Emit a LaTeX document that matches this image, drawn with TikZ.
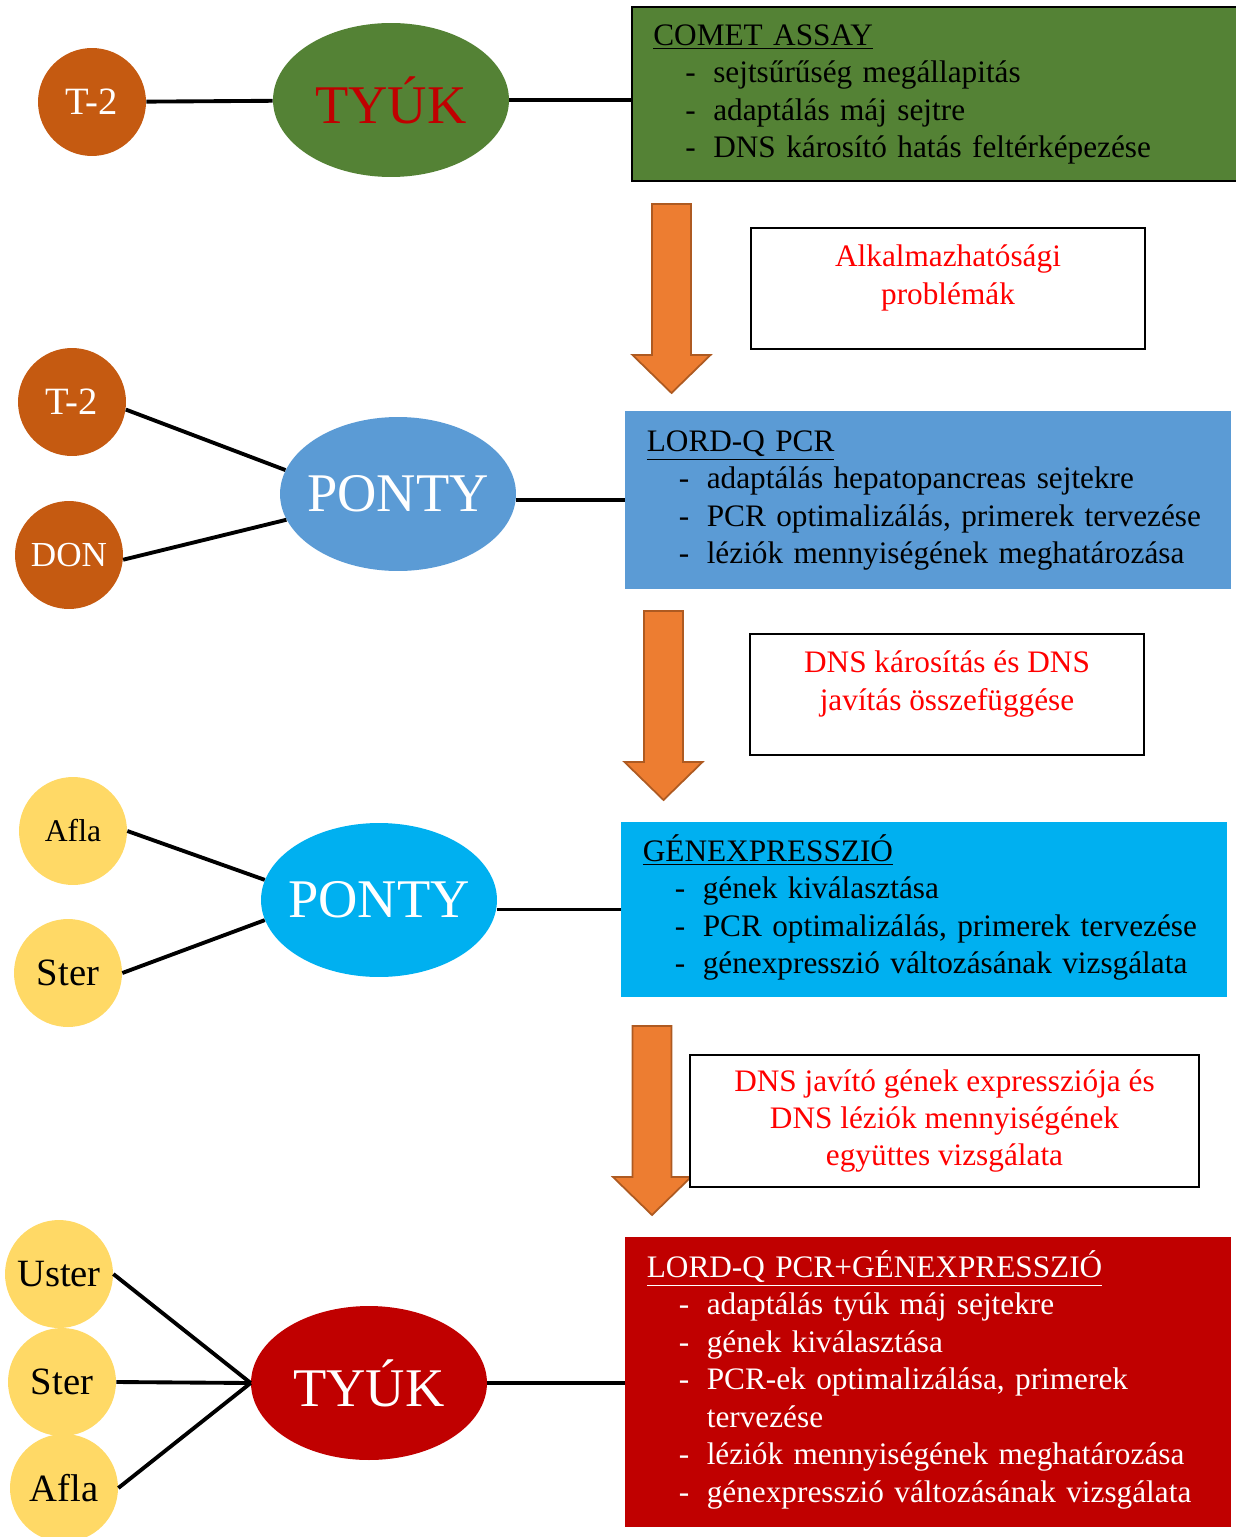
\documentclass[tikz,border=0pt]{standalone}
\usepackage{fontspec}
\setmainfont{Liberation Serif}
\usepackage{xcolor}
\usepackage{tikz}
\usetikzlibrary{positioning, shapes.geometric}

\definecolor{leaf}{HTML}{548235}
\definecolor{rust}{HTML}{C55A11}
\definecolor{steel}{HTML}{5B9BD5}
\definecolor{sky}{HTML}{00B0F0}
\definecolor{corn}{HTML}{FFD966}
\definecolor{wine}{HTML}{C00000}
\definecolor{arroworange}{HTML}{ED7D31}
\definecolor{arrowedge}{HTML}{AE5A21}
\definecolor{textred}{HTML}{FF0000}

\newcommand{\listhead}[1]{\multicolumn{2}{@{}l@{}}{\underline{#1}}}
\newenvironment{steplist}{\begin{tabular}{@{\hspace{0.64cm}}p{0.56cm}@{}l@{}}}{\end{tabular}}

\begin{document}
\begin{tikzpicture}[x=0.02cm, y=-0.02cm,
  toxin/.style={circle, minimum size=2.16cm, inner sep=0pt, font=\fontsize{22}{26}\selectfont},
  animal/.style={ellipse, minimum width=4.72cm, minimum height=3.08cm, inner xsep=-1cm, inner ysep=0pt, font=\fontsize{31}{36}\selectfont},
  listbox/.style={rectangle, align=left, text width=11.25cm, inner xsep=0.42cm, inner ysep=0pt, font=\fontsize{17.8}{21.3}\selectfont},
  note/.style={rectangle, draw=black, fill=white, line width=1.1pt, inner sep=0pt, minimum width=7.88cm, minimum height=2.42cm},
  notetext/.style={align=center, text=textred, font=\fontsize{17.8}{22}\selectfont},
  link/.style={line width=2.2pt},
  fatarrow/.style={fill=arroworange, draw=arrowedge, line width=1pt}]
\useasboundingbox (0,0) rectangle (1236,1537);

% first row: tyuk, comet assay
\node[toxin, fill=rust, text=white] (t2a) at (92,102) {T-2};
\node[animal, fill=leaf, text=wine] (tyuk1) at (391,100) {TYÚK};
\node[listbox, fill=leaf, draw=black, line width=1.1pt, minimum width=12.06cm, minimum height=3.48cm] (comet) at (934.5,94) {%
\begin{steplist}
\listhead{COMET ASSAY}\\
- & sejtsűrűség megállapitás\\
- & adaptálás máj sejtre\\
- & DNS károsító hatás feltérképezése
\end{steplist}};
\draw[link] (t2a) -- (tyuk1);
\draw[link] (tyuk1.east) -- (tyuk1.east -| comet.west);

% orange arrows
\foreach \ax/\ay in {671.5/204, 663.5/611, 652/1026}
  \draw[fatarrow] (\ax-19.5,\ay) -- (\ax+19.5,\ay) -- (\ax+19.5,\ay+151) -- (\ax+39,\ay+151)
    -- (\ax,\ay+189) -- (\ax-39,\ay+151) -- (\ax-19.5,\ay+151) -- cycle;

\node[note] (prob1) at (948,288.5) {};
\node[notetext] (prob1txt) at (948,278) {Alkalmazhatósági\\problémák};

% second row: ponty, lord-q pcr
\node[toxin, fill=rust, text=white] (t2b) at (72,402) {T-2};
\node[toxin, fill=rust, text=white, font=\fontsize{20}{24}\selectfont] (don) at (69,555) {DON};
\node[animal, fill=steel, text=white] (ponty1) at (398,494) {PONTY};
\node[listbox, fill=steel, minimum width=12.12cm, minimum height=3.56cm] (lord) at (928,500) {%
\begin{steplist}
\listhead{LORD-Q PCR}\\
- & adaptálás hepatopancreas sejtekre\\
- & PCR optimalizálás, primerek tervezése\\
- & léziók mennyiségének meghatározása
\end{steplist}};
\draw[link] (t2b.-8) -- (ponty1.168);
\draw[link] (don.-5) -- (ponty1.193);
\draw[link] (lord.west -| ponty1.east) -- (lord.west);

\node[note] (prob2) at (947,694.5) {};
\node[notetext] (prob2txt) at (947,684) {DNS károsítás és DNS\\javítás összefüggése};

% third row: ponty, genexpresszio
\node[toxin, fill=corn, font=\fontsize{18}{22}\selectfont] (afla1) at (73,831) {Afla};
\node[toxin, fill=corn] (ster1) at (68,973) {Ster};
\node[animal, fill=sky, text=white] (ponty2) at (379,900) {PONTY};
\node[listbox, fill=sky, minimum width=12.12cm, minimum height=3.5cm] (gen) at (924,909.5) {%
\begin{steplist}
\listhead{GÉNEXPRESSZIÓ}\\
- & gének kiválasztása\\
- & PCR optimalizálás, primerek tervezése\\
- & génexpresszió változásának vizsgálata
\end{steplist}};
\draw[link] (afla1.east) -- (ponty2.170);
\draw[link] (ster1.east) -- (ponty2.190);
\draw[link] (gen.west -| ponty2.east) -- (gen.west);

\node[note, minimum width=10.18cm, minimum height=2.64cm, notetext, font=\fontsize{17.8}{21}\selectfont] (prob3) at (944.5,1121)
  {DNS javító gének expressziója és\\DNS léziók mennyiségének\\együttes vizsgálata};

% fourth row: tyuk, lord-q pcr + genexpresszio
\node[toxin, fill=corn] (uster) at (59,1274) {Uster};
\node[toxin, fill=corn] (ster2) at (62,1382) {Ster};
\node[toxin, fill=corn] (afla2) at (64,1488) {Afla};
\node[animal, fill=wine, text=white] (tyuk2) at (369,1383) {TYÚK};
\node[listbox, fill=wine, text=white, minimum width=12.12cm, minimum height=5.8cm] (final) at (928,1382) {%
\begin{steplist}
\listhead{LORD-Q PCR+GÉNEXPRESSZIÓ}\\
- & adaptálás tyúk máj sejtekre\\
- & gének kiválasztása\\
- & PCR-ek optimalizálása, primerek\\
  & tervezése\\
- & léziók mennyiségének meghatározása\\
- & génexpresszió változásának vizsgálata
\end{steplist}};
\draw[link] (uster.east) -- (tyuk2.west);
\draw[link] (ster2.east) -- (tyuk2.west);
\draw[link] (afla2.east) -- (tyuk2.west);
\draw[link] (tyuk2.east) -- (tyuk2.east -| final.west);
\end{tikzpicture}
\end{document}
